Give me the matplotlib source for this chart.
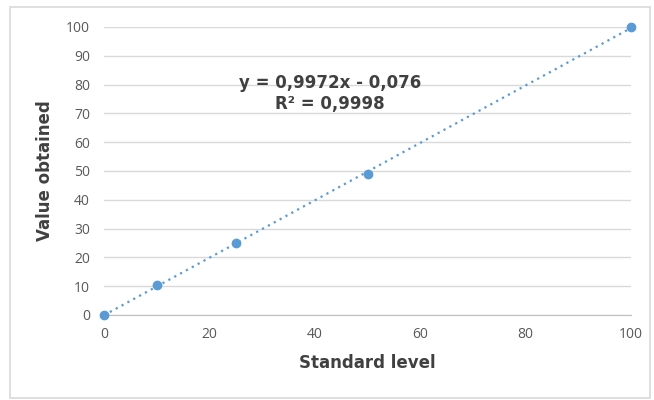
import matplotlib
matplotlib.use("Agg")
import matplotlib.pyplot as plt
from matplotlib.patches import Rectangle
import numpy as np

standard_level = [0, 10, 25, 50, 100]
value_obtained = [0, 10.3, 25, 49, 100]
slope = 0.9972
intercept = -0.076
equation_text = "y = 0,9972x - 0,076\nR² = 0,9998"
x_ticks = [0, 20, 40, 60, 80, 100]
y_ticks = [0, 10, 20, 30, 40, 50, 60, 70, 80, 90, 100]

plt.rcParams['font.family'] = ['Open Sans', 'DejaVu Sans']

fig = plt.figure(figsize=(6.54, 4.0), dpi=100)
fig.patch.set_facecolor('white')
fig.patches.append(Rectangle((10/654, 2/400), 640/654, 391/400, transform=fig.transFigure,
                             fill=False, edgecolor='#d9d9d9', linewidth=1.2))

ax = fig.add_axes([104/654, 1-315/400, 527/654, 288/400])
blue = '#5b9bd5'
tx = np.array([0, 100])
ax.plot(tx, slope*tx + intercept, linestyle=(0, (1, 2)), color=blue, linewidth=1.6, zorder=3)
ax.plot(standard_level, value_obtained, 'o', color=blue, markersize=6, zorder=4, clip_on=False)

ax.set_xlim(0, 100)
ax.set_ylim(0, 100)
ax.set_xticks(x_ticks)
ax.set_yticks(y_ticks)
ax.grid(axis='y', color='#d9d9d9', linewidth=1)
ax.set_axisbelow(True)
for s in ['top', 'right', 'left']:
    ax.spines[s].set_visible(False)
ax.spines['bottom'].set_color('#bfbfbf')
ax.tick_params(axis='both', length=0, labelsize=10, labelcolor='#595959')
ax.tick_params(axis='x', pad=9)
ax.tick_params(axis='y', pad=10)

bold_font = dict(family=['DejaVu Sans'], fontweight='bold', color='#404040')
ax.set_xlabel('Standard level', fontsize=12, labelpad=8, **bold_font)
ax.set_ylabel('Value obtained', fontsize=12, labelpad=9, **bold_font)

ax.text(42.9, 77, equation_text, ha='center', va='center', fontsize=12,
        linespacing=1.2, **bold_font)

fig.savefig('out.png', dpi=100)
